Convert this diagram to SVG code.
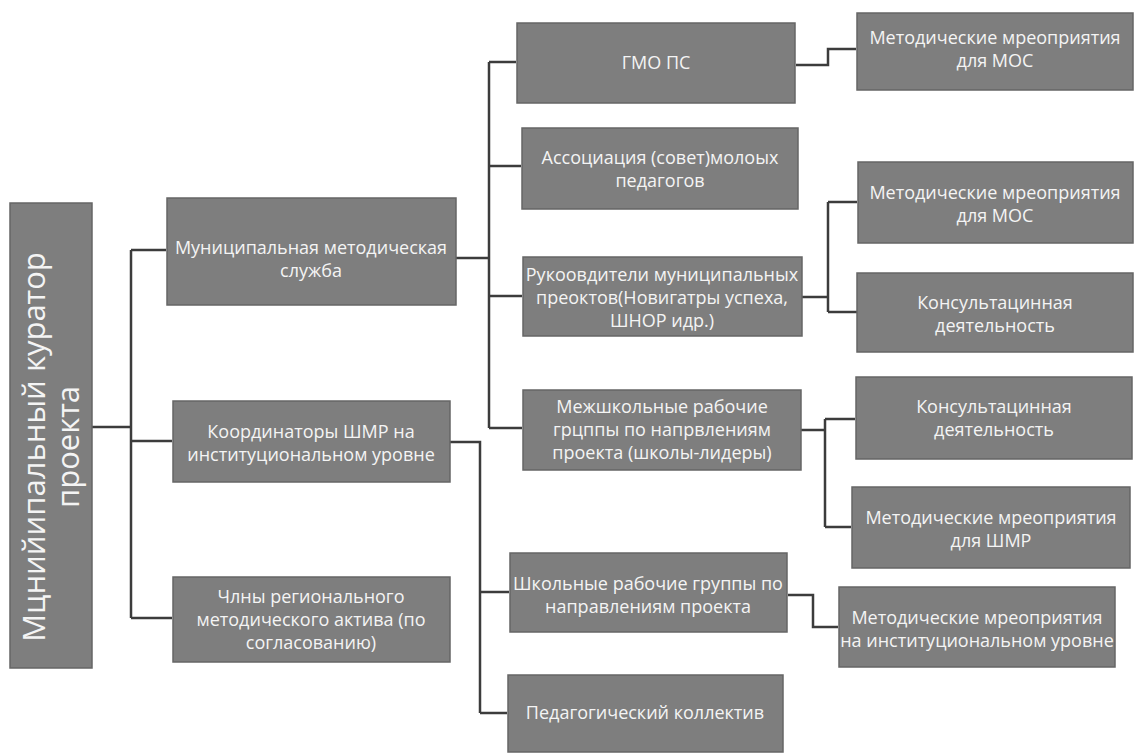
<svg xmlns="http://www.w3.org/2000/svg" width="1134" height="754" viewBox="0 0 1134 754">
<style>
.box{fill:#7e7e7e;stroke:#666666;stroke-width:1.5}
.t{font-family:"Open Sans","Liberation Sans",sans-serif;font-size:18px;fill:#f4f4f4;text-anchor:middle}
.big{font-size:31px}
.c{fill:none;stroke:#3c3c3c;stroke-width:2.5}
</style>
<rect width="1134" height="754" fill="#ffffff"/>
<g id="connectors">
<path class="c" d="M92,427 H131 M131,250 V618 M131,250 H166 M131,441 H172 M131,618 H172"/>
<path class="c" d="M456,258 H489 M489,62 V428 M489,62 H516 M489,166 H521 M489,296 H522 M489,428 H522"/>
<path class="c" d="M450,442 H480 V713 M480,592 H509 M480,713 H507"/>
<path class="c" d="M796,65 H828 V49 H856"/>
<path class="c" d="M802,297 H828 M828,202 V312 M828,202 H857 M828,312 H857"/>
<path class="c" d="M801,430 H825 M825,419 V527 M825,419 H855 M825,527 H851"/>
<path class="c" d="M788,595 H813 V627 H838"/>
</g>
<g id="root">
<rect class="box" x="10" y="203" width="82" height="465"/>
<text class="t big" transform="translate(51,447) rotate(-90)"><tspan x="0" y="-6">Мцнийипальный куратор</tspan><tspan x="0" y="28">проекта</tspan></text>
</g>
<g id="n-mms">
<rect class="box" x="167" y="198" width="289" height="107"/>
<text class="t"><tspan x="311" y="254">Муниципальная методическая</tspan><tspan x="311" y="277">служба</tspan></text>
</g>
<g id="n-coord">
<rect class="box" x="173" y="401" width="277" height="81"/>
<text class="t"><tspan x="311" y="438">Координаторы ШМР на</tspan><tspan x="311" y="461">институциональном уровне</tspan></text>
</g>
<g id="n-members">
<rect class="box" x="173" y="577" width="277" height="85"/>
<text class="t"><tspan x="311" y="603">Члны регионального</tspan><tspan x="311" y="626">методического актива (по</tspan><tspan x="311" y="649">согласованию)</tspan></text>
</g>
<g id="n-gmo">
<rect class="box" x="517" y="23" width="278" height="80"/>
<text class="t"><tspan x="656" y="69">ГМО ПС</tspan></text>
</g>
<g id="n-assoc">
<rect class="box" x="522" y="128" width="276" height="81"/>
<text class="t"><tspan x="660" y="164">Ассоциация (совет)молоых</tspan><tspan x="660" y="187">педагогов</tspan></text>
</g>
<g id="n-leaders">
<rect class="box" x="523" y="257" width="279" height="79"/>
<text class="t"><tspan x="662" y="281">Рукоовдители муниципальных</tspan><tspan x="662" y="304">преоктов(Новигатры успеха,</tspan><tspan x="662" y="327">ШНОР идр.)</tspan></text>
</g>
<g id="n-interschool">
<rect class="box" x="523" y="390" width="278" height="80"/>
<text class="t"><tspan x="662" y="413">Межшкольные рабочие</tspan><tspan x="662" y="436">грцппы по напрвлениям</tspan><tspan x="662" y="459">проекта (школы-лидеры)</tspan></text>
</g>
<g id="n-schoolgroups">
<rect class="box" x="510" y="553" width="277" height="79"/>
<text class="t"><tspan x="648" y="590">Школьные рабочие группы по</tspan><tspan x="648" y="613">направлениям проекта</tspan></text>
</g>
<g id="n-teachers">
<rect class="box" x="508" y="675" width="275" height="77"/>
<text class="t"><tspan x="645" y="719">Педагогический коллектив</tspan></text>
</g>
<g id="n-met1">
<rect class="box" x="857" y="13" width="276" height="77"/>
<text class="t"><tspan x="995" y="44">Методические мреоприятия</tspan><tspan x="995" y="67">для МОС</tspan></text>
</g>
<g id="n-met2">
<rect class="box" x="858" y="162" width="275" height="81"/>
<text class="t"><tspan x="995" y="199">Методические мреоприятия</tspan><tspan x="995" y="222">для МОС</tspan></text>
</g>
<g id="n-cons1">
<rect class="box" x="857" y="273" width="276" height="79"/>
<text class="t"><tspan x="995" y="309">Консультацинная</tspan><tspan x="995" y="332">деятельность</tspan></text>
</g>
<g id="n-cons2">
<rect class="box" x="856" y="377" width="276" height="82"/>
<text class="t"><tspan x="994" y="413">Консультацинная</tspan><tspan x="994" y="436">деятельность</tspan></text>
</g>
<g id="n-met3">
<rect class="box" x="852" y="487" width="278" height="81"/>
<text class="t"><tspan x="991" y="524">Методические мреоприятия</tspan><tspan x="991" y="547">для ШМР</tspan></text>
</g>
<g id="n-met4">
<rect class="box" x="839" y="587" width="276" height="80"/>
<text class="t"><tspan x="977" y="624">Методические мреоприятия</tspan><tspan x="977" y="647">на институциональном уровне</tspan></text>
</g>
</svg>
